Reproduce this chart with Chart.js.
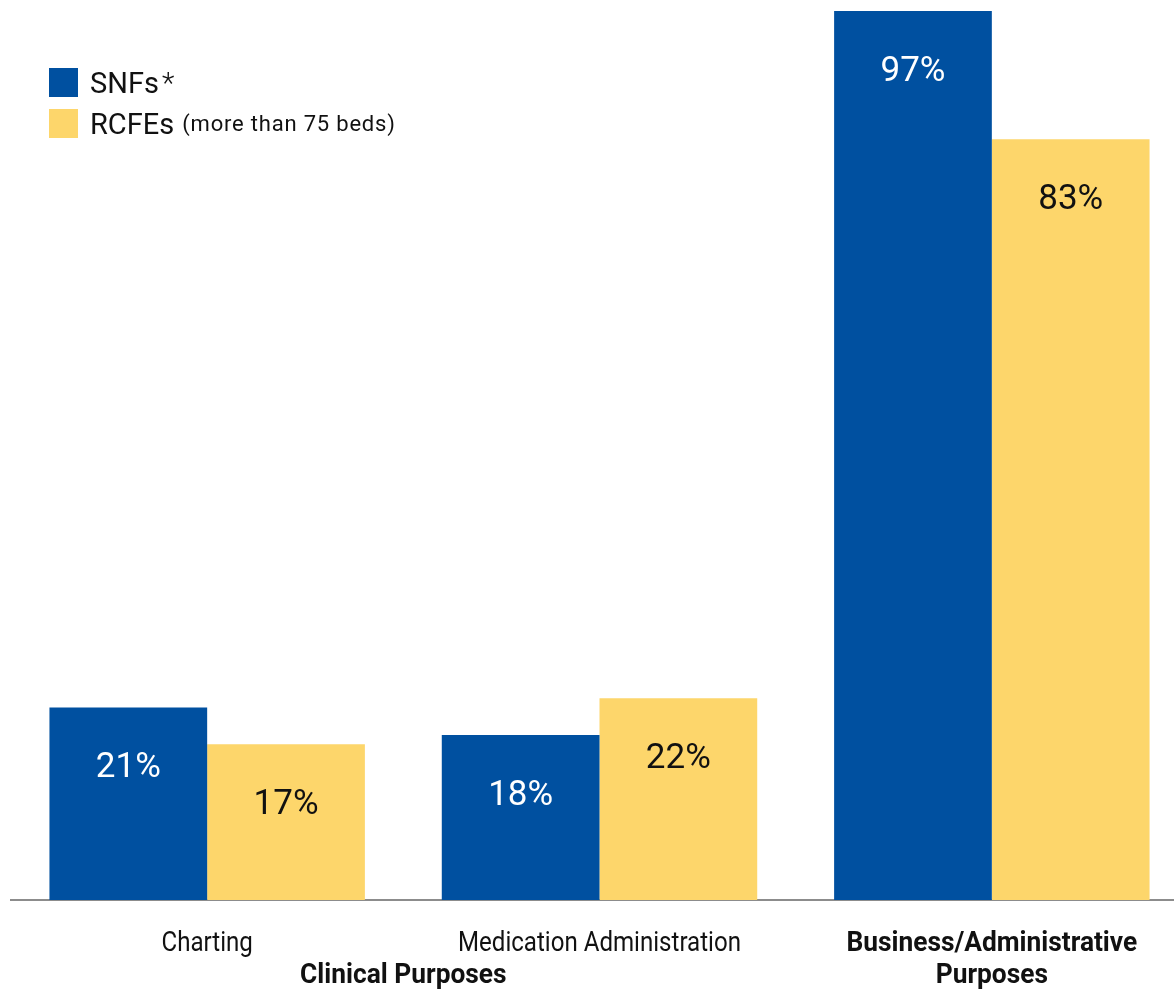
<!DOCTYPE html>
<html lang="en">
<head>
    <meta charset="UTF-8">
    <title>Use of electronic systems by facility type</title>
    <script src="https://cdn.jsdelivr.net/npm/chart.js"></script>
    <style>
        html, body { margin: 0; padding: 0; background: #fff; overflow: hidden; }
        .wrap { position: relative; width: 1190px; height: 990px; }
        .legend { position: absolute; left: 49px; top: 68px; font-family: Roboto, "Liberation Sans", sans-serif; color: #111; }
        .legend .item { display: flex; align-items: center; height: 29px; margin-bottom: 12px; font-size: 29px; }
        .legend .sw { width: 29px; height: 29px; margin-right: 12px; }
        .legend .star { margin-left: 3px; font-weight: 300; }
        .legend small { font-size: 22px; margin-left: 8px; letter-spacing: 0.8px; }
    </style>
</head>
<body>
    <div class="wrap">
        <canvas id="chart" width="1190" height="990"></canvas>
        <div class="legend">
            <div class="item"><span class="sw" style="background:#0050a0"></span>SNFs<span class="star">*</span></div>
            <div class="item"><span class="sw" style="background:#fdd66b"></span>RCFEs<small>(more than 75 beds)</small></div>
        </div>
    </div>
    <script>
        // Data
        const categories = ['Charting', 'Medication Administration', ['Business/Administrative', 'Purposes']];
        const boldCategory = [false, false, true];
        const snfValues = [21, 18, 97];
        const rcfeValues = [17, 22, 83];

        const BLUE = '#0050a0';
        const YELLOW = '#fdd66b';

        // percent labels inside the bars
        const valueLabels = {
            id: 'valueLabels',
            afterDatasetsDraw(chart) {
                const ctx = chart.ctx;
                ctx.save();
                ctx.font = '35px Roboto, sans-serif';
                ctx.textAlign = 'center';
                ctx.textBaseline = 'middle';
                chart.data.datasets.forEach((ds, i) => {
                    chart.getDatasetMeta(i).data.forEach((bar, j) => {
                        ctx.fillStyle = i === 0 ? '#ffffff' : '#111111';
                        ctx.fillText(ds.data[j] + '%', bar.x, bar.y + 61);
                    });
                });
                ctx.restore();
            }
        };

        // squeezed text, to get a condensed look
        function narrowText(ctx, text, x, y, bold) {
            const sx = bold ? 0.94 : 0.86;
            ctx.save();
            ctx.font = (bold ? 'bold ' : '') + '28px Roboto, sans-serif';
            ctx.translate(x, y);
            ctx.scale(sx, 1);
            ctx.fillText(text, 0, 0);
            ctx.restore();
        }

        // category names under the axis, plus the group title
        const axisLabels = {
            id: 'axisLabels',
            afterDraw(chart) {
                const ctx = chart.ctx;
                const x = chart.scales.x;
                ctx.save();
                ctx.fillStyle = '#111';
                ctx.textAlign = 'center';
                ctx.textBaseline = 'middle';
                categories.forEach((c, i) => {
                    const lines = Array.isArray(c) ? c : [c];
                    lines.forEach((l, k) => narrowText(ctx, l, x.getPixelForValue(i), 944 + k * 32, boldCategory[i]));
                });
                narrowText(ctx, 'Clinical Purposes', (x.getPixelForValue(0) + x.getPixelForValue(1)) / 2, 976, true);
                ctx.restore();
            }
        };

        new Chart(document.getElementById('chart'), {
            type: 'bar',
            data: {
                labels: categories,
                datasets: [
                    { label: 'SNFs*', data: snfValues, backgroundColor: BLUE },
                    { label: 'RCFEs', data: rcfeValues, backgroundColor: YELLOW }
                ]
            },
            options: {
                responsive: false,
                animation: false,
                categoryPercentage: 0.804,
                barPercentage: 1,
                layout: { padding: { top: 11, bottom: 82, left: 11, right: 2 } },
                plugins: { legend: { display: false }, tooltip: { enabled: false } },
                scales: {
                    x: {
                        grid: { display: false },
                        ticks: { display: false },
                        border: { display: true, color: '#8c8c8c', width: 2 }
                    },
                    y: { display: false, min: 0, max: 97 }
                }
            },
            plugins: [valueLabels, axisLabels]
        });
    </script>
</body>
</html>
